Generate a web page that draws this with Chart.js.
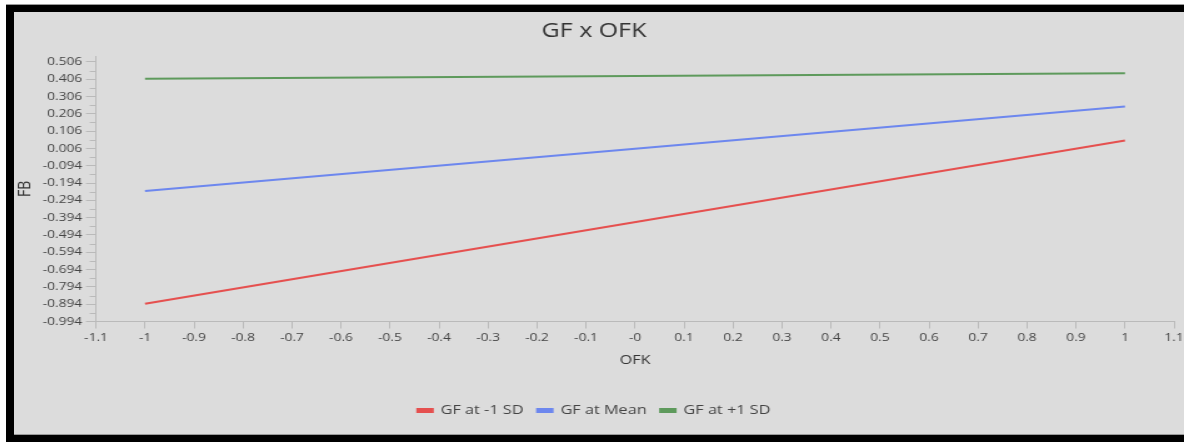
<!DOCTYPE html>
<html>
<head>
<meta charset="utf-8">
<script src="https://cdn.jsdelivr.net/npm/chart.js@4.4.1/dist/chart.umd.min.js"></script>
<style>
  html, body { margin: 0; padding: 0; background: #fff; width: 1184px; height: 442px; overflow: hidden; }
  .frame { position: absolute; left: 6px; top: 4px; width: 1178px; height: 438px; background: #000; border-top: 1px solid #9a9a9a; box-sizing: border-box; }
  .panel { position: absolute; left: 14px; top: 12px; width: 1170px; height: 423px; background: #dcdcdc; border-bottom: 1px solid #9a9a9a; box-sizing: border-box; overflow: hidden; }
  /* the reference text is stretched sideways, so the chart is drawn narrower and widened */
  .chart-box { position: absolute; left: 0; top: 0; width: 936px; height: 422px; transform: scaleX(1.25); transform-origin: 0 0; }
</style>
</head>
<body>
<div class="frame"></div>
<div class="panel">
  <div class="chart-box"><canvas id="interactionChart"></canvas></div>
</div>
<script>
// OFK values where the lines are evaluated
const ofkValues = [-1, 1];

// FB at each GF level
const gfLowSD = [-0.892, 0.052];
const gfMean = [-0.240, 0.248];
const gfHighSD = [0.408, 0.441];

const seriesNames = ['GF at -1 SD', 'GF at Mean', 'GF at +1 SD'];
const seriesColors = ['#e5504f', '#6d87ee', '#5e9a5c'];

// axis ticks as shown in the picture
const xTicks = [-1.1, -1, -0.9, -0.8, -0.7, -0.6, -0.5, -0.4, -0.3, -0.2, -0.1, 0, 0.1, 0.2, 0.3, 0.4, 0.5, 0.6, 0.7, 0.8, 0.9, 1, 1.1];
const xTickLabels = ['-1.1', '-1', '-0.9', '-0.8', '-0.7', '-0.6', '-0.5', '-0.4', '-0.3', '-0.2', '-0.1', '-0', '0.1', '0.2', '0.3', '0.4', '0.5', '0.6', '0.7', '0.8', '0.9', '1', '1.1'];
const yTicks = [-0.994, -0.894, -0.794, -0.694, -0.594, -0.494, -0.394, -0.294, -0.194, -0.094, 0.006, 0.106, 0.206, 0.306, 0.406, 0.506];
const yTickLabels = ['-0.994', '-0.894', '-0.794', '-0.694', '-0.594', '-0.494', '-0.394', '-0.294', '-0.194', '-0.094', '0.006', '0.106', '0.206', '0.306', '0.406', '0.506'];

const axisColor = '#bababa';
const textColor = '#444444';
const fontFamily = '"Open Sans", "Noto Sans", sans-serif';

// short ticks halfway between the labelled y ticks
const minorTicks = {
    id: 'minorTicks',
    afterDraw(chart) {
        const y = chart.scales.y;
        const ctx = chart.ctx;
        ctx.save();
        ctx.strokeStyle = axisColor;
        ctx.lineWidth = 1;
        for (let i = 0; i < yTicks.length - 1; i++) {
            const mid = (yTicks[i] + yTicks[i + 1]) / 2;
            const py = Math.round(y.getPixelForValue(mid)) + 0.5;
            ctx.beginPath();
            ctx.moveTo(y.right - 5, py);
            ctx.lineTo(y.right, py);
            ctx.stroke();
        }
        ctx.restore();
    }
};

const datasets = [gfLowSD, gfMean, gfHighSD].map((vals, i) => ({
    label: seriesNames[i],
    data: ofkValues.map((x, j) => ({ x, y: vals[j] })),
    borderColor: seriesColors[i],
    backgroundColor: seriesColors[i],
    borderWidth: 2,
    pointRadius: 0,
    showLine: true,
    fill: false
}));

new Chart(document.getElementById('interactionChart'), {
    type: 'scatter',
    data: { datasets },
    plugins: [minorTicks],
    options: {
        responsive: true,
        maintainAspectRatio: false,
        animation: false,
        layout: { padding: { left: 0, right: 8, top: 0, bottom: 7 } },
        plugins: {
            title: {
                display: true,
                text: 'GF x OFK',
                color: '#333333',
                font: { family: fontFamily, size: 20, weight: 'normal' },
                padding: { top: 7, bottom: 13 }
            },
            legend: {
                display: true,
                position: 'bottom',
                labels: {
                    boxWidth: 12,
                    boxHeight: 3,
                    padding: 11,
                    color: textColor,
                    font: { family: fontFamily, size: 13 }
                }
            },
            tooltip: { enabled: false }
        },
        scales: {
            x: {
                type: 'linear',
                min: -1.1,
                max: 1.1,
                afterBuildTicks(scale) {
                    scale.ticks = xTicks.map(v => ({ value: v }));
                },
                afterFit(scale) {
                    scale.height = 71.5;
                    scale.paddingRight = 0;
                },
                ticks: {
                    color: textColor,
                    padding: 3,
                    maxRotation: 0,
                    autoSkip: false,
                    font: { family: fontFamily, size: 11 },
                    callback: (value, index) => xTickLabels[index]
                },
                grid: { drawOnChartArea: false, drawTicks: true, tickLength: 7, color: axisColor },
                border: { color: axisColor, width: 1 },
                title: {
                    display: true,
                    text: 'OFK',
                    color: '#333333',
                    font: { family: fontFamily, size: 13 },
                    padding: { top: 0, bottom: 25 }
                }
            },
            y: {
                type: 'linear',
                min: -0.994,
                max: 0.54,
                afterBuildTicks(scale) {
                    scale.ticks = yTicks.map(v => ({ value: v }));
                },
                afterFit(scale) {
                    scale.width = 65.6;
                },
                ticks: {
                    color: textColor,
                    padding: 3,
                    autoSkip: false,
                    font: { family: fontFamily, size: 11 },
                    callback: (value, index) => yTickLabels[index]
                },
                grid: { drawOnChartArea: false, drawTicks: true, tickLength: 8, color: axisColor },
                border: { color: axisColor, width: 1 },
                title: {
                    display: true,
                    text: 'FB',
                    color: '#333333',
                    font: { family: fontFamily, size: 14 },
                    padding: { top: 1, bottom: 0 }
                }
            }
        }
    }
});
</script>
</body>
</html>
